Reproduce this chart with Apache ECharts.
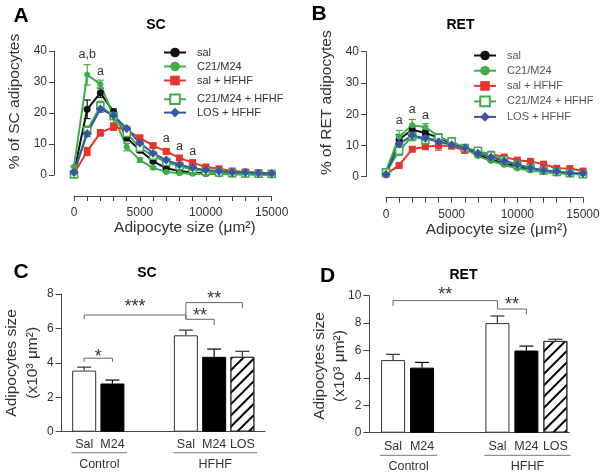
<!DOCTYPE html>
<html><head><meta charset="utf-8">
<script src="https://cdn.jsdelivr.net/npm/echarts@6/dist/echarts.min.js"></script>
<style>html,body{margin:0;padding:0;background:#fff}#c{width:603px;height:475px}</style>
</head><body><div id="c"></div>
<script>
// ---------- data ----------
const sizes = [0,1000,2000,3000,4000,5000,6000,7000,8000,9000,10000,11000,12000,13000,14000,15000];
const seriesNames = ['sal','C21/M24','sal + HFHF','C21/M24 + HFHF','LOS + HFHF'];

const scSal    = [0.8, 21.2, 26.5, 20.4, 12.0, 8.0, 4.4, 2.2, 1.3, 0.8, 0.5, 0.4, 0.3, 0.3, 0.2, 0.2];
const scC21    = [2.7, 32.3, 29.3, 18.8, 9.0, 4.8, 2.3, 1.0, 0.6, 0.4, 0.3, 0.3, 0.2, 0.2, 0.2, 0.2];
const scSalH   = [0.5, 7.6, 13.6, 15.6, 14.5, 12.0, 9.5, 7.6, 5.5, 4.0, 2.6, 2.0, 1.3, 1.0, 0.8, 0.5];
const scC21H   = [0.2, 14.3, 22.3, 19.0, 13.5, 8.8, 6.2, 4.2, 2.8, 1.8, 1.2, 0.8, 0.6, 0.5, 0.4, 0.3];
const scLosH   = [0.8, 13.4, 21.3, 19.2, 15.0, 10.3, 7.0, 4.8, 3.3, 2.3, 1.6, 1.2, 0.9, 0.8, 0.6, 0.5];
const scSalSem  = [0.3, 3.0, 1.5, 1.0, 1.0, 0.8, 0.5, 0.3, 0.2, 0.2, 0.1, 0.1, 0.1, 0.1, 0.1, 0.1];
const scC21Sem  = [0.3, 3.3, 1.3, 2.5, 1.2, 0.7, 0.4, 0.2, 0.1, 0.1, 0.1, 0.1, 0.1, 0.1, 0.1, 0.1];
const scSalHSem = [0.2, 1.3, 1.0, 1.2, 0.8, 0.6, 0.5, 0.5, 0.4, 0.3, 0.3, 0.2, 0.2, 0.1, 0.1, 0.1];
const scC21HSem = [0.2, 1.5, 1.5, 1.0, 0.8, 0.6, 0.5, 0.4, 0.3, 0.2, 0.2, 0.1, 0.1, 0.1, 0.1, 0.1];
const scLosHSem = [0.2, 1.0, 1.0, 0.8, 0.6, 0.5, 0.4, 0.3, 0.2, 0.2, 0.1, 0.1, 0.1, 0.1, 0.1, 0.1];

const retSal   = [0.8, 12.0, 15.0, 14.0, 12.5, 10.5, 9.0, 7.0, 5.5, 4.2, 3.2, 2.3, 1.7, 1.3, 1.0, 0.8];
const retC21   = [1.8, 12.8, 16.5, 15.8, 13.0, 10.8, 9.0, 6.6, 5.0, 3.8, 2.6, 2.0, 1.5, 1.1, 0.9, 0.7];
const retSalH  = [0.8, 3.6, 8.8, 9.6, 10.0, 9.8, 8.4, 8.0, 7.2, 6.3, 5.3, 4.9, 4.0, 2.7, 2.6, 1.8];
const retC21H  = [1.4, 8.3, 13.0, 11.7, 12.5, 11.3, 9.2, 8.3, 6.8, 5.3, 3.8, 2.8, 2.0, 1.5, 1.1, 0.8];
const retLosH  = [0.8, 10.5, 13.2, 12.3, 11.2, 10.2, 9.3, 7.5, 6.2, 5.0, 3.8, 2.8, 2.1, 1.7, 1.2, 1.1];
const retSalSem  = [0.3, 1.5, 1.0, 1.0, 0.8, 0.5, 0.5, 0.4, 0.4, 0.3, 0.3, 0.2, 0.2, 0.2, 0.1, 0.1];
const retC21Sem  = [0.4, 2.0, 1.8, 1.2, 0.8, 0.6, 0.5, 0.4, 0.3, 0.3, 0.2, 0.2, 0.2, 0.1, 0.1, 0.1];
const retSalHSem = [0.2, 0.5, 0.8, 0.8, 1.5, 0.8, 0.6, 0.5, 0.5, 0.4, 0.4, 0.3, 0.3, 0.3, 0.2, 0.2];
const retC21HSem = [0.5, 1.5, 1.5, 1.2, 0.8, 0.6, 0.5, 0.5, 0.4, 0.4, 0.3, 0.3, 0.2, 0.2, 0.1, 0.1];
const retLosHSem = [0.2, 1.0, 1.0, 0.8, 0.6, 0.5, 0.5, 0.4, 0.3, 0.3, 0.3, 0.2, 0.2, 0.2, 0.1, 0.1];

// letters above points: [size, % level, text]
const annotSC  = [[1000, 39, 'a,b'], [2000, 33.5, 'a'], [7000, 11.8, 'a'], [8000, 9.1, 'a'], [9000, 7.5, 'a']];
const annotRET = [[1000, 17.9, 'a'], [2000, 21.6, 'a'], [3000, 19.7, 'a']];

// bar panels
const barLabels  = ['Sal', 'M24', 'Sal', 'M24', 'LOS'];
const groupNames = ['Control', 'HFHF'];
const groupBars  = [[0, 1], [2, 3, 4]];
const scMeans  = [3.55, 2.8, 5.6, 4.35, 4.35];
const scSem    = [0.2, 0.2, 0.3, 0.45, 0.32];
const retMeans = [5.3, 4.75, 8.0, 6.0, 6.7];
const retSem   = [0.42, 0.38, 0.52, 0.32, 0.12];
// significance: bar a, bar b, line level, label level, left leg end, right leg end, text
const sigSC  = [[0, 1, 4.27, 4.56, 4.05, 4.05, '*'],
                [0, 2, 6.78, 7.47, 6.53, 6.53, '***'],
                [2, 3, 6.53, 6.98, 6.53, 6.2, '**'],
                [2, 4, 7.5, 7.95, 6.53, 7.19, '**']];
const sigRET = [[0, 2, 9.64, 10.34, 9.25, 9.03, '**'],
                [2, 3, 9.03, 9.64, 9.03, 8.64, '**']];
const barAxisName = 'Adipocytes size\n(x10³ μm²)';

// ---------- styles / layout ----------
const FONT = 'Arial, "Liberation Sans", Helvetica, sans-serif';
const GREEN = '#3fae4a', RED = '#e6362c', BLUE = '#3b55a6', AX = '#444', TX = '#333';
const lineStyles = [
  {color: '#111', symbol: 'circle', size: 7, fill: '#111', bw: 0},
  {color: GREEN, symbol: 'circle', size: 6, fill: GREEN, bw: 0},
  {color: RED, symbol: 'rect', size: 7, fill: RED, bw: 0},
  {color: GREEN, symbol: 'rect', size: 7, fill: '#fff', bw: 1.6},
  {color: BLUE, symbol: 'diamond', size: 9, fill: BLUE, bw: 0}
];
const barPos = [1, 2, 4.6, 5.6, 6.6];
const barStyles = [
  {color: '#fff', borderColor: '#333', borderWidth: 1},
  {color: '#000', borderColor: '#000', borderWidth: 1},
  {color: '#fff', borderColor: '#333', borderWidth: 1},
  {color: '#000', borderColor: '#000', borderWidth: 1},
  {color: '#fff', borderColor: '#333', borderWidth: 1,
   decal: {symbol: 'rect', symbolSize: 1, color: '#000', dashArrayX: [1, 0], dashArrayY: [2, 6], rotation: -Math.PI / 4}}
];

const chart = echarts.init(document.getElementById('c'), null, {renderer: 'canvas'});

function lineSer(i, vals, g) {
  const s = lineStyles[i];
  return {type: 'line', name: seriesNames[i], xAxisIndex: g, yAxisIndex: g,
    data: sizes.map((x, k) => [x, vals[k]]), symbol: s.symbol, symbolSize: s.size,
    lineStyle: {color: s.color, width: 2}, itemStyle: {color: s.fill, borderColor: s.color, borderWidth: s.bw},
    emphasis: {disabled: true}, animation: false, z: 3};
}
function errSer(i, vals, sem, g) {
  const c = lineStyles[i].color;
  return {type: 'custom', xAxisIndex: g, yAxisIndex: g, animation: false, z: 2, silent: true,
    data: sizes.map((x, k) => [x, vals[k] - sem[k], vals[k] + sem[k]]),
    renderItem: (p, api) => {
      const lo = api.coord([api.value(0), api.value(1)]), hi = api.coord([api.value(0), api.value(2)]);
      const st = {stroke: c, lineWidth: 1.2};
      return {type: 'group', children: [
        {type: 'line', shape: {x1: lo[0], y1: lo[1], x2: hi[0], y2: hi[1]}, style: st},
        {type: 'line', shape: {x1: lo[0] - 3.5, y1: lo[1], x2: lo[0] + 3.5, y2: lo[1]}, style: st},
        {type: 'line', shape: {x1: hi[0] - 3.5, y1: hi[1], x2: hi[0] + 3.5, y2: hi[1]}, style: st}]};
    }};
}
function annotSer(list, g) {
  return {type: 'custom', xAxisIndex: g, yAxisIndex: g, silent: true, animation: false, z: 5,
    data: list.map(a => [a[0], a[1]]),
    renderItem: (p, api) => {
      const pt = api.coord([api.value(0), api.value(1)]);
      return {type: 'text', x: pt[0], y: pt[1], style: {text: list[p.dataIndex][2], fill: TX,
        font: '12.5px ' + FONT, textAlign: 'center', textVerticalAlign: 'middle'}};
    }};
}
function barSer(means, g) {
  return {type: 'bar', xAxisIndex: g, yAxisIndex: g, barWidth: 24, animation: false, silent: true,
    data: barPos.map((p, i) => ({value: [p, means[i]], itemStyle: barStyles[i]}))};
}
function barErrSer(means, sem, g) {
  return {type: 'custom', xAxisIndex: g, yAxisIndex: g, silent: true, animation: false, z: 4,
    data: barPos.map((p, i) => [p, means[i], means[i] + sem[i]]),
    renderItem: (p, api) => {
      const lo = api.coord([api.value(0), api.value(1)]), hi = api.coord([api.value(0), api.value(2)]);
      const col = barStyles[p.dataIndex].color === '#000' ? '#000' : '#333';
      const st = {stroke: col, lineWidth: 1.2};
      return {type: 'group', children: [
        {type: 'line', shape: {x1: lo[0], y1: lo[1], x2: hi[0], y2: hi[1]}, style: st},
        {type: 'line', shape: {x1: hi[0] - 7, y1: hi[1], x2: hi[0] + 7, y2: hi[1]}, style: st}]};
    }};
}
function sigSer(list, g) {
  return {type: 'custom', xAxisIndex: g, yAxisIndex: g, silent: true, animation: false, z: 5,
    data: list.map(s => [barPos[s[0]], s[2]]),
    renderItem: (p, api) => {
      const s = list[p.dataIndex];
      const a = api.coord([barPos[s[0]], s[2]]), b = api.coord([barPos[s[1]], s[2]]);
      const la = api.coord([barPos[s[0]], s[4]]), lb = api.coord([barPos[s[1]], s[5]]);
      const t = api.coord([(barPos[s[0]] + barPos[s[1]]) / 2, s[3]]);
      const st = {stroke: '#666', lineWidth: 1};
      return {type: 'group', children: [
        {type: 'line', shape: {x1: a[0], y1: a[1], x2: b[0], y2: b[1]}, style: st},
        {type: 'line', shape: {x1: a[0], y1: a[1], x2: la[0], y2: la[1]}, style: st},
        {type: 'line', shape: {x1: b[0], y1: b[1], x2: lb[0], y2: lb[1]}, style: st},
        {type: 'text', x: t[0], y: t[1] + 4, style: {text: s[6], fill: '#333', font: '18px ' + FONT,
          textAlign: 'center', textVerticalAlign: 'middle'}}]};
    }};
}
function groupSer(g, lineOff, textOff) {
  return {type: 'custom', xAxisIndex: g, yAxisIndex: g, silent: true, animation: false, z: 5,
    data: groupBars.map(b => [barPos[b[0]], 0]),
    renderItem: (p, api) => {
      const b = groupBars[p.dataIndex];
      const l = api.coord([barPos[b[0]] - 0.45, 0]), r = api.coord([barPos[b[b.length - 1]] + 0.52, 0]);
      const y = l[1] + lineOff;
      return {type: 'group', children: [
        {type: 'line', shape: {x1: l[0], y1: y, x2: r[0], y2: y}, style: {stroke: '#777', lineWidth: 1}},
        {type: 'text', x: (l[0] + r[0]) / 2, y: l[1] + textOff, style: {text: groupNames[p.dataIndex], fill: TX,
          font: '12.5px ' + FONT, textAlign: 'center', textVerticalAlign: 'middle'}}]};
    }};
}

const mkLine = () => ({show: true, onZero: false, lineStyle: {color: AX, width: 1}});
const mkTick = () => ({show: true, length: 5, inside: false, lineStyle: {color: AX, width: 1}});
const mkLab = extra => Object.assign({fontSize: 12, color: TX, fontFamily: FONT}, extra);

function lineXAxis(g) {
  return {gridIndex: g, type: 'value', position: 'bottom', min: 0, max: 15000, interval: 1000, offset: 21,
    axisLine: mkLine(), axisTick: mkTick(), splitLine: {show: false},
    axisLabel: mkLab({margin: 10.5, formatter: v => (v % 5000 === 0 ? String(v) : '')}),
    name: 'Adipocyte size (μm²)', nameLocation: 'middle', nameGap: 24, nameMoveOverlap: false,
    nameTextStyle: {fontSize: 15.5, color: TX, fontFamily: FONT, padding: [0, 0, 0, 24]}};
}
function lineYAxis(g, name) {
  return {gridIndex: g, type: 'value', position: 'left', min: 0, max: 40, interval: 10, offset: 20,
    axisLine: mkLine(), axisTick: mkTick(), splitLine: {show: false},
    axisLabel: mkLab({margin: 7}),
    name: name, nameLocation: 'middle', nameGap: 31, nameMoveOverlap: false,
    nameTextStyle: {fontSize: 15.5, color: TX, fontFamily: FONT, padding: [0, 0, 0, 23]}};
}
function barXAxis(g, min, max, margin) {
  return {gridIndex: g, type: 'value', min: min, max: max,
    axisLine: mkLine(), axisTick: {show: false}, splitLine: {show: false},
    axisLabel: {customValues: barPos, margin: margin, fontSize: 12.5, color: TX, fontFamily: FONT,
      formatter: v => { const i = barPos.findIndex(p => Math.abs(p - v) < 1e-6); return i >= 0 ? barLabels[i] : ''; }}};
}
function barYAxis(g, max, withName) {
  const ax = {gridIndex: g, type: 'value', min: 0, max: max, interval: 2,
    axisLine: mkLine(), axisTick: {show: true, length: 6, lineStyle: {color: AX}}, splitLine: {show: false},
    axisLabel: mkLab({margin: 8})};
  if (withName) Object.assign(ax, {name: barAxisName, nameLocation: 'middle', nameGap: 13,
    nameTextStyle: {fontSize: 15.5, lineHeight: 21, color: TX, fontFamily: FONT}});
  return ax;
}

const legendBase = {orient: 'vertical', itemWidth: 22, itemHeight: 12, selectedMode: false,
  textStyle: {fontSize: 11, color: TX, fontFamily: FONT, padding: [0, 0, 0, 6]}};

function txt(x, y, s, size) {
  return {type: 'text', x: x, y: y, style: {text: s, font: 'bold ' + size + 'px ' + FONT, fill: '#000',
    textAlign: 'center', textVerticalAlign: 'middle'}};
}

const option = {
  backgroundColor: '#fff',
  animation: false,
  textStyle: {fontFamily: FONT},
  grid: [
    {left: 74, top: 51, width: 197.7, height: 124},
    {left: 386, top: 51.7, width: 197, height: 125},
    {left: 56.7, top: 294, width: 208.3, height: 137.7},
    {left: 369.3, top: 295.7, width: 200, height: 137}
  ],
  xAxis: [lineXAxis(0), lineXAxis(1), barXAxis(2, 0.2, 7.4, 6), barXAxis(3, 0.18, 7.08, 7)],
  yAxis: [lineYAxis(0, '% of SC adipocytes'), lineYAxis(1, '% of RET adipocytes'),
          barYAxis(2, 8, true), barYAxis(3, 10, false)],
  legend: [
    Object.assign({}, legendBase, {data: seriesNames.slice(0, 3), left: 158, top: 42, itemGap: 3}),
    Object.assign({}, legendBase, {data: seriesNames.slice(3), left: 158, top: 88.5, itemGap: 2}),
    Object.assign({}, legendBase, {data: seriesNames, left: 468, top: 45, itemGap: 4.2,
      textStyle: Object.assign({}, legendBase.textStyle, {color: '#555'})})
  ],
  graphic: [
    txt(21, 16, 'A', 21), txt(319, 14, 'B', 21), txt(21, 272, 'C', 21), txt(327.5, 276.5, 'D', 21),
    txt(156, 25, 'SC', 14), txt(460.5, 25, 'RET', 14), txt(147, 273, 'SC', 14), txt(463.5, 275, 'RET', 14),
    {type: 'text', x: 330, y: 366, rotation: Math.PI / 2,
     style: {text: barAxisName, font: '15.5px ' + FONT, lineHeight: 20, fill: TX, textAlign: 'center', textVerticalAlign: 'middle'}}
  ],
  series: [
    errSer(0, scSal, scSalSem, 0), errSer(1, scC21, scC21Sem, 0), errSer(2, scSalH, scSalHSem, 0),
    errSer(3, scC21H, scC21HSem, 0), errSer(4, scLosH, scLosHSem, 0),
    lineSer(0, scSal, 0), lineSer(1, scC21, 0), lineSer(2, scSalH, 0), lineSer(3, scC21H, 0), lineSer(4, scLosH, 0),
    errSer(0, retSal, retSalSem, 1), errSer(1, retC21, retC21Sem, 1), errSer(2, retSalH, retSalHSem, 1),
    errSer(3, retC21H, retC21HSem, 1), errSer(4, retLosH, retLosHSem, 1),
    lineSer(0, retSal, 1), lineSer(1, retC21, 1), lineSer(2, retSalH, 1), lineSer(3, retC21H, 1), lineSer(4, retLosH, 1),
    annotSer(annotSC, 0), annotSer(annotRET, 1),
    barSer(scMeans, 2), barErrSer(scMeans, scSem, 2), sigSer(sigSC, 2), groupSer(2, 21, 33.3),
    barSer(retMeans, 3), barErrSer(retMeans, retSem, 3), sigSer(sigRET, 3), groupSer(3, 22.6, 34)
  ]
};
chart.setOption(option);
</script></body></html>
